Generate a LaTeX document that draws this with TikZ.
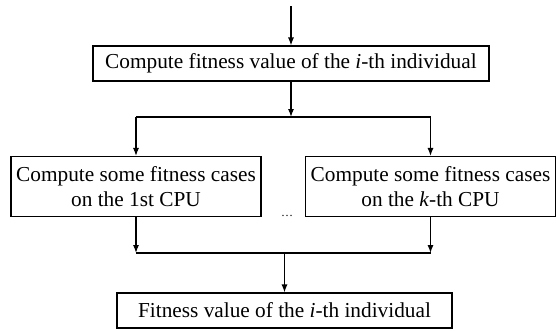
\documentclass[tikz,border=0pt]{standalone}
\usepackage{fontspec}
\setmainfont{Liberation Serif}
\usetikzlibrary{arrows.meta, positioning}

\begin{document}
\begin{tikzpicture}[
    x=1pt, y=-1pt,
    box/.style={rectangle, draw, line width=1.1pt, minimum height=35pt, inner sep=0pt, align=center, font=\fontsize{21.3}{25}\selectfont},
    cpubox/.style={box, minimum height=60pt, minimum width=250pt},
    arr/.style={-{Latex[length=8pt, width=6pt]}, line width=1.1pt},
    link/.style={line width=1.1pt},
]
\useasboundingbox (0,0) rectangle (558,330);

% Top box
\coordinate (start) at (291,6);
\node[box, minimum width=396pt] (fit) at (291,63.5) {Compute fitness value of the \textit{i}-th individual};
\draw[arr] (start) -- (fit.north);

% Split to the CPUs
\coordinate (split) at (291,117);
\node[cpubox] (cpu1) at (136,186.5) {Compute some fitness cases\\on the 1st CPU};
\node[cpubox] (cpuk) at (430.5,186.5) {Compute some fitness cases\\on the \textit{k}-th CPU};
\node[font=\fontsize{12}{14}\selectfont, inner sep=0pt] (dots) at (287,216) {\dots};
\draw[arr] (fit.south) -- (split);
\draw[link] (cpu1.north |- split) -- (cpuk.north |- split);
\draw[arr] (cpu1.north |- split) -- (cpu1.north);
\draw[arr] (cpuk.north |- split) -- (cpuk.north);

% Merge
\coordinate (merge) at (284.5,253);
\node[box, minimum width=335pt] (res) at (284.5,310.5) {Fitness value of the \textit{i}-th individual};
\draw[arr] (cpu1.south) -- (cpu1.south |- merge);
\draw[arr] (cpuk.south) -- (cpuk.south |- merge);
\draw[link] (cpu1.south |- merge) -- (cpuk.south |- merge);
\draw[arr] (merge) -- (res.north);

\end{tikzpicture}
\end{document}
